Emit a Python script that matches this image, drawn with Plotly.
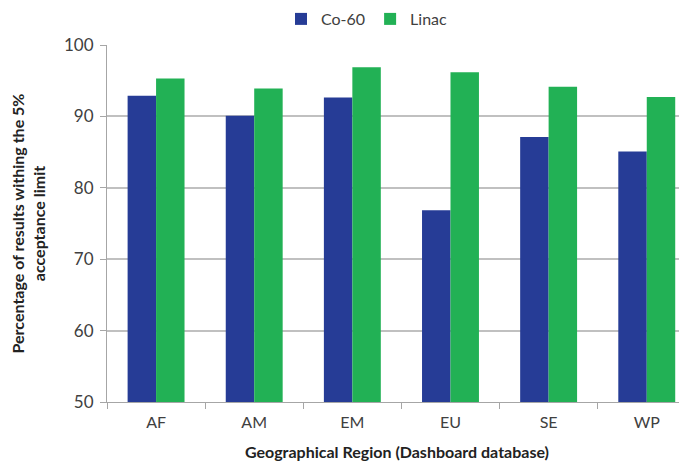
import plotly.graph_objects as go

categories = ["AF", "AM", "EM", "EU", "SE", "WP"]
co60 = [92.9, 90.1, 92.65, 76.85, 87.1, 85.1]
linac = [95.3, 93.9, 96.9, 96.2, 94.15, 92.7]

fig = go.Figure()
fig.add_trace(go.Bar(name="Co-60", x=categories, y=co60, marker=dict(color="#263C96", line=dict(width=0))))
fig.add_trace(go.Bar(name="Linac", x=categories, y=linac, marker=dict(color="#22B155", line=dict(width=0))))

font_family = "Lato, Open Sans, sans-serif"
W, H = 679, 454  # page body has an 8px margin
fig.update_layout(
    width=W, height=H,
    margin=dict(l=99, r=0, t=37, b=60, autoexpand=False),
    plot_bgcolor="white", paper_bgcolor="white",
    barmode="group", bargap=0.42, bargroupgap=0,
    font=dict(family=font_family, size=16, color="#404040"),
    legend=dict(orientation="h", xref="container", yref="container",
                x=273 / W, xanchor="left", y=1 - 11 / H, yanchor="middle",
                bgcolor="rgba(0,0,0,0)",
                font=dict(size=16, color="#404040"), itemwidth=30, traceorder="normal"),
    xaxis=dict(
        range=[-0.5, 5.41], showline=True, linecolor="#A6A6A6", linewidth=1,
        ticks="outside", tickson="boundaries", ticklen=6, tickcolor="#A6A6A6",
        ticklabelstandoff=6,
        tickfont=dict(size=16, color="#404040"),
        title=dict(text="<b>Geographical Region (Dashboard database)</b>", font=dict(size=16, color="#222222"), standoff=16),
    ),
    yaxis=dict(
        range=[50, 100], dtick=10, showline=True, linecolor="#A6A6A6", linewidth=1,
        ticks="outside", ticklen=6, tickcolor="#A6A6A6",
        ticklabelstandoff=3,
        showgrid=True, gridcolor="#C0C0C0", gridwidth=1.5,
        tickfont=dict(size=17, color="#404040"),
        title=dict(text="<b>Percentage of results withing the 5%<br>acceptance limit</b>", font=dict(size=16, color="#222222"), standoff=18),
    ),
)

fig.write_html("out.html")
